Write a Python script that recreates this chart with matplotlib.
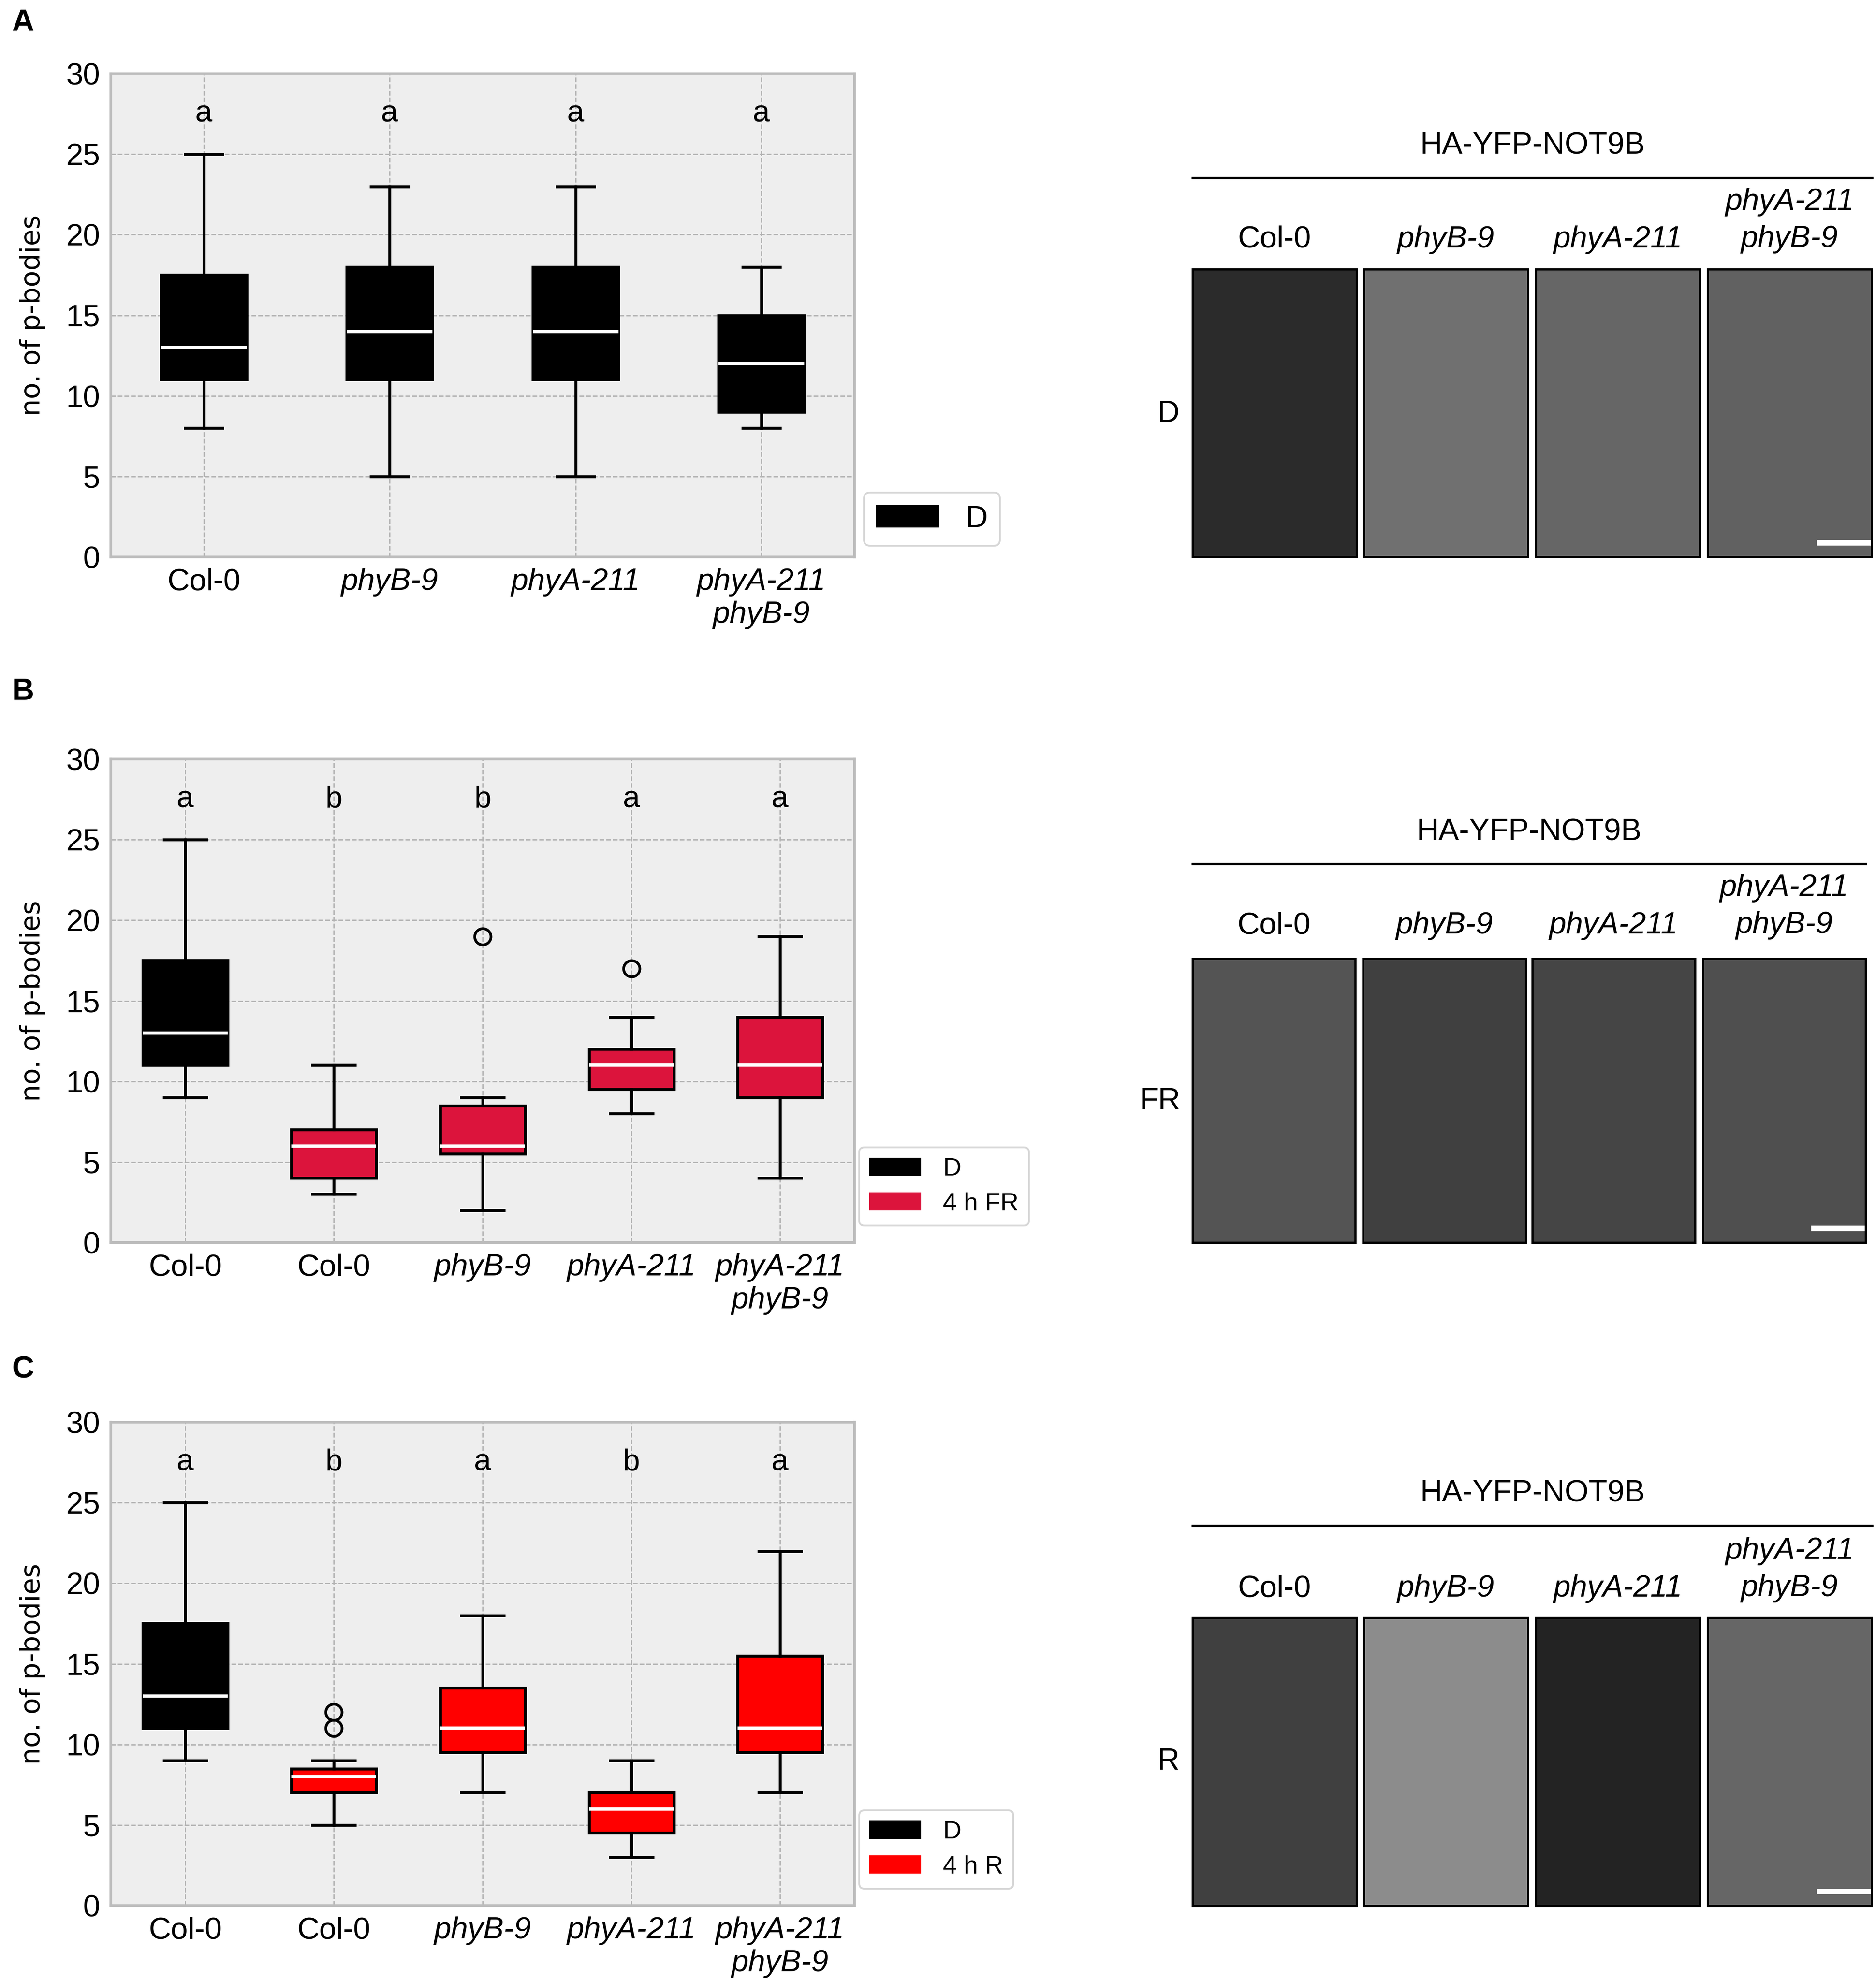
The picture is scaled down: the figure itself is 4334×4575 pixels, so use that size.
import numpy as np
import matplotlib
matplotlib.use("Agg")
import matplotlib.pyplot as plt
from matplotlib.patches import Patch

plt.rcParams['font.family'] = ['Liberation Sans', 'DejaVu Sans']
FS = 17

# panel A: dark only
a_groups = ['Col-0', 'phyB-9', 'phyA-211', 'phyA-211\nphyB-9']
a_treat = ['D', 'D', 'D', 'D']
a_low = [8, 5, 5, 8]
a_q1 = [11, 11, 11, 9]
a_med = [13, 14, 14, 12]
a_q3 = [17.5, 18, 18, 15]
a_high = [25, 23, 23, 18]
a_fliers = [[], [], [], []]
a_letters = ['a', 'a', 'a', 'a']

# panel B: dark vs 4 h far-red
b_groups = ['Col-0', 'Col-0', 'phyB-9', 'phyA-211', 'phyA-211\nphyB-9']
b_treat = ['D', '4 h FR', '4 h FR', '4 h FR', '4 h FR']
b_low = [9, 3, 2, 8, 4]
b_q1 = [11, 4, 5.5, 9.5, 9]
b_med = [13, 6, 6, 11, 11]
b_q3 = [17.5, 7, 8.5, 12, 14]
b_high = [25, 11, 9, 14, 19]
b_fliers = [[], [], [19], [17], []]
b_letters = ['a', 'b', 'b', 'a', 'a']

# panel C: dark vs 4 h red
c_groups = ['Col-0', 'Col-0', 'phyB-9', 'phyA-211', 'phyA-211\nphyB-9']
c_treat = ['D', '4 h R', '4 h R', '4 h R', '4 h R']
c_low = [9, 5, 7, 3, 7]
c_q1 = [11, 7, 9.5, 4.5, 9.5]
c_med = [13, 8, 11, 6, 11]
c_q3 = [17.5, 8.5, 13.5, 7, 15.5]
c_high = [25, 9, 18, 9, 22]
c_fliers = [[], [11, 12], [], [], []]
c_letters = ['a', 'b', 'a', 'b', 'a']

treat_colors = {'D': 'black', '4 h FR': '#dc143c', '4 h R': '#ff0000'}

# microscopy panels (mean grey level only)
img_cols = ['Col-0', 'phyB-9', 'phyA-211', 'phyA-211\nphyB-9']
gray_A = [0.17, 0.44, 0.40, 0.38]
gray_B = [0.33, 0.25, 0.27, 0.31]
gray_C = [0.25, 0.55, 0.14, 0.40]
row_names = ['D', 'FR', 'R']

W, H = 4334, 4575
fig = plt.figure(figsize=(W / 300, H / 300), dpi=300)


def fx(px):
    return px / W


def fy(px):
    return 1 - px / H


def boxpanel(top, bottom, groups, treat, low, q1, med, q3, high, fliers, letters,
             leg_xy, leg_fs, bw, cw):
    ax = fig.add_axes([fx(256), fy(bottom), fx(1974 - 256), (bottom - top) / H])
    ax.set_facecolor('#eeeeee')
    stats = []
    for i in range(len(groups)):
        stats.append(dict(whislo=low[i], q1=q1[i], med=med[i], q3=q3[i],
                          whishi=high[i], fliers=fliers[i]))
    pos = np.arange(1, len(groups) + 1)
    bp = ax.bxp(stats, positions=pos, widths=bw, patch_artist=True,
                showfliers=True, capwidths=cw,
                boxprops=dict(linewidth=1.6, edgecolor='black'),
                whiskerprops=dict(linewidth=1.6, color='black'),
                capprops=dict(linewidth=1.6, color='black'),
                medianprops=dict(linewidth=1.8, color='white'),
                flierprops=dict(marker='o', markersize=9, markerfacecolor='none',
                                markeredgecolor='black', markeredgewidth=1.5))
    for patch, t in zip(bp['boxes'], treat):
        patch.set_facecolor(treat_colors[t])
    for x, s in zip(pos, letters):
        ax.text(x, 27.5, s, ha='center', va='center', fontsize=FS)
    ax.set_xlim(0.5, len(groups) + 0.5)
    ax.set_ylim(0, 30)
    ax.set_yticks(range(0, 31, 5))
    ax.set_xticks(pos)
    ax.set_xticklabels(groups)
    for lab, g in zip(ax.get_xticklabels(), groups):
        if g != 'Col-0':
            lab.set_fontstyle('italic')
    ax.tick_params(length=0, labelsize=FS, pad=6)
    ax.grid(True, color='#b2b2b2', linestyle='--', linewidth=0.7)
    ax.set_axisbelow(True)
    for sp in ax.spines.values():
        sp.set_color('#bcbcbc')
        sp.set_linewidth(1.5)
    ax.set_ylabel('no. of p-bodies', fontsize=15, family='DejaVu Sans')
    ax.yaxis.set_label_coords(-0.088, 0.5)
    seen = []
    handles = []
    for t in treat:
        if t not in seen:
            seen.append(t)
            handles.append(Patch(facecolor=treat_colors[t], edgecolor='none', label=t))
    fig.legend(handles=handles, loc='lower left', bbox_to_anchor=(fx(leg_xy[0]), fy(leg_xy[1])),
               bbox_transform=fig.transFigure, fontsize=leg_fs, frameon=True,
               fancybox=True, edgecolor='#cccccc', handlelength=2.05,
               handleheight=0.74, handletextpad=0.86, borderaxespad=0,
               borderpad=0.4, labelspacing=0.45)
    return ax


def imgpanel(top_px, bottom_px, lefts, width_px, grays, row, title_y, line_y, line_r, lab_y, row_xy):
    for i, (l, g) in enumerate(zip(lefts, grays)):
        ax = fig.add_axes([fx(l), fy(bottom_px), fx(width_px), (bottom_px - top_px) / H])
        ax.imshow(np.full((10, 10), g), cmap='gray', vmin=0, vmax=1, aspect='auto')
        ax.set_xticks([])
        ax.set_yticks([])
        for sp in ax.spines.values():
            sp.set_linewidth(1.2)
            sp.set_color('black')
        if i == len(lefts) - 1:
            ax.plot([6.3, 9.3], [9.0, 9.0], color='white', linewidth=3)
            ax.set_xlim(-0.5, 9.5)
            ax.set_ylim(9.5, -0.5)
        cx = fx(l + width_px / 2)
        name = img_cols[i]
        style = 'normal' if name == 'Col-0' else 'italic'
        if '\n' in name:
            fig.text(cx, fy(lab_y - 44), name, ha='center', va='center',
                     fontsize=FS, fontstyle=style, linespacing=1.38)
        else:
            fig.text(cx, fy(lab_y), name, ha='center', va='center',
                     fontsize=FS, fontstyle=style)
    x0 = fx(lefts[0])
    x1 = fx(line_r)
    fig.text((x0 + x1) / 2, fy(title_y), 'HA-YFP-NOT9B', ha='center', va='center', fontsize=FS)
    fig.add_artist(plt.Line2D([x0, x1], [fy(line_y), fy(line_y)], color='black',
                              linewidth=1.3, transform=fig.transFigure))
    fig.text(fx(row_xy[0]), fy(row_xy[1]), row, ha='center', va='center', fontsize=FS)


# left box plots
boxpanel(170, 1287, a_groups, a_treat, a_low, a_q1, a_med, a_q3, a_high, a_fliers,
         a_letters, (1996, 1261), 17, 0.46, 0.2)
boxpanel(1754, 2871, b_groups, b_treat, b_low, b_q1, b_med, b_q3, b_high, b_fliers,
         b_letters, (1985, 2832), 14, 0.57, 0.285)
boxpanel(3286, 4403, c_groups, c_treat, c_low, c_q1, c_med, c_q3, c_high, c_fliers,
         c_letters, (1985, 4364), 14, 0.57, 0.285)

# right microscopy rows
lefts_ac = [2755, 3151, 3548, 3945]
lefts_b = [2755, 3149, 3540, 3934]
imgpanel(622, 1287, lefts_ac, 379, gray_A, row_names[0], 338, 411, 4325, 554, (2699, 957))
imgpanel(2215, 2871, lefts_b, 376, gray_B, row_names[1], 1923, 1996, 4310, 2139, (2679, 2545))
imgpanel(3738, 4403, lefts_ac, 379, gray_C, row_names[2], 3452, 3525, 4325, 3671, (2699, 4071))

for lab, y in zip(['A', 'B', 'C'], [53, 1599, 3166]):
    fig.text(fx(53), fy(y), lab, ha='center', va='center', fontsize=FS, fontweight='bold')

fig.savefig('out.png', dpi=300)
